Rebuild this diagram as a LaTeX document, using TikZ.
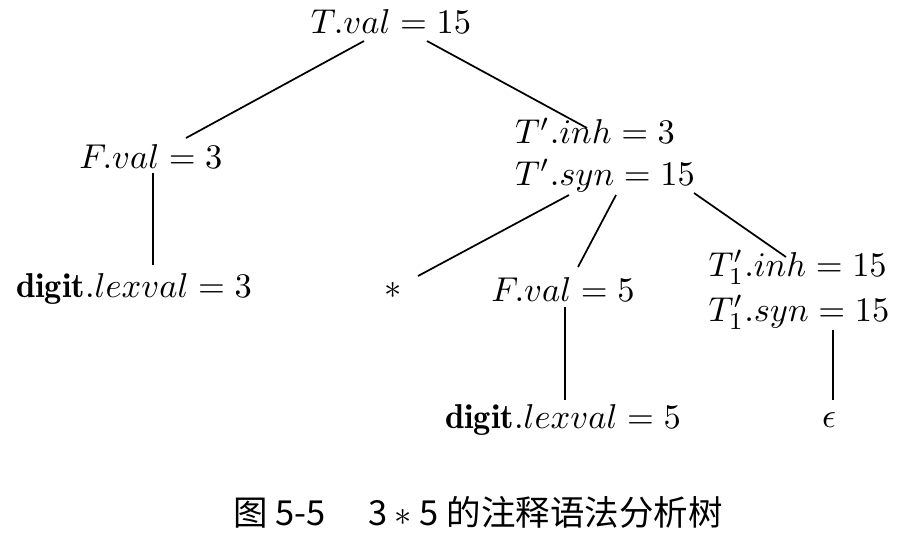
\documentclass[tikz,border=0pt]{standalone}
\usepackage{amsmath}
\usepackage{fontspec}
\newfontfamily\cjk{Noto Sans CJK SC}
\usepackage{tikz}
\usetikzlibrary{calc}

\begin{document}
\begin{tikzpicture}[x=0.29pt,y=-0.29pt]
            \tikzstyle{every node}+=[inner sep=0pt]
            \tikzstyle{edge}=[black,line width=0.5pt]
            \useasboundingbox (0,0) rectangle (906,544);
            \node (T) at (391,22) {$T.val = 15$};
            \node (F3) at (151,157) {$F.val = 3$};
            \node (Tp) at (605,155) [align=left] {$T'.inh = 3$\\$T'.syn = 15$};
            \node (D3) at (134,289) {$\mathbf{digit}.lexval = 3$};
            \node (star) at (393,290) {$*$};
            \node (F5) at (563,290) {$F.val = 5$};
            \node (T1p) at (799,290) [align=left] {$T'_1.inh = 15$\\[1pt]$T'_1.syn = 15$};
            \node (D5) at (563,420) {$\mathbf{digit}.lexval = 5$};
            \node (eps) at (829,420) {$\epsilon$};
            \node (cap) at (478,512) {\cjk 图 5-5\quad\ 3 $*$ 5 的注释语法分析树};
            \draw [edge] ($(T)+(-27,19)$) -- ($(F3)+(35,-19)$);
            \draw [edge] ($(T)+(36,19)$) -- ($(Tp)+(-18,-27)$);
            \draw [edge] ($(F3)+(2,16)$) -- ($(D3)+(19,-24)$);
            \draw [edge] ($(Tp)+(-36,40)$) -- ($(star)+(25,-14)$);
            \draw [edge] ($(Tp)+(11,40)$) -- ($(F5)+(15,-23)$);
            \draw [edge] ($(Tp)+(89,38)$) -- ($(T1p)+(-13,-33)$);
            \draw [edge] ($(F5)+(2,17)$) -- ($(D5)+(2,-20)$);
            \draw [edge] ($(T1p)+(34,40)$) -- ($(eps)+(4,-20)$);
        \end{tikzpicture}
\end{document}
